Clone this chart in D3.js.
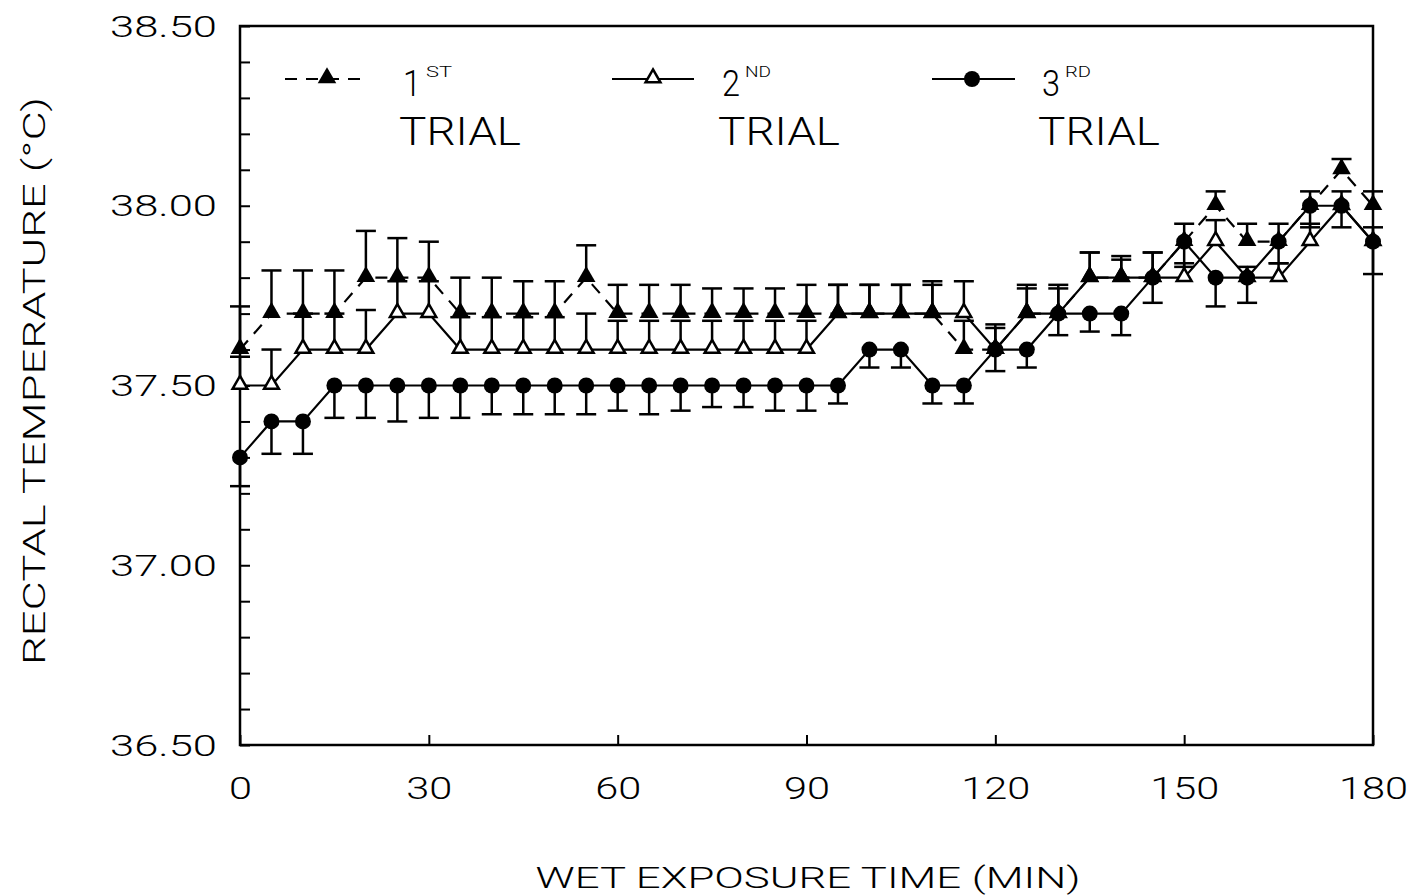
<!DOCTYPE html>
<meta charset="utf-8">
<head>
    <title>Rectal Temperature</title>
    <style>
        body { margin: 0; background: #fff; }
        text { font-family: Roboto, "Liberation Sans", Arial, sans-serif; font-weight: 300; fill: #000; }
    </style>
</head>
<body>
<svg id="chart" width="1416" height="896"></svg>
<script src="https://d3js.org/d3.v7.min.js"></script>
<script>
    // wet exposure time (min)
    var times = [0, 5, 10, 15, 20, 25, 30, 35, 40, 45, 50, 55, 60, 65, 70, 75, 80, 85, 90,
                 95, 100, 105, 110, 115, 120, 125, 130, 135, 140, 145, 150, 155, 160, 165, 170, 175, 180];

    var trial1 = [37.6, 37.7, 37.7, 37.7, 37.8, 37.8, 37.8, 37.7, 37.7, 37.7, 37.7, 37.8, 37.7, 37.7, 37.7, 37.7, 37.7, 37.7, 37.7,
                  37.7, 37.7, 37.7, 37.7, 37.6, 37.6, 37.7, 37.7, 37.8, 37.8, 37.8, 37.9, 38.0, 37.9, 37.9, 38.0, 38.1, 38.0];
    var trial2 = [37.5, 37.5, 37.6, 37.6, 37.6, 37.7, 37.7, 37.6, 37.6, 37.6, 37.6, 37.6, 37.6, 37.6, 37.6, 37.6, 37.6, 37.6, 37.6,
                  37.7, 37.7, 37.7, 37.7, 37.7, 37.6, 37.7, 37.7, 37.8, 37.8, 37.8, 37.8, 37.9, 37.8, 37.8, 37.9, 38.0, 37.9];
    var trial3 = [37.3, 37.4, 37.4, 37.5, 37.5, 37.5, 37.5, 37.5, 37.5, 37.5, 37.5, 37.5, 37.5, 37.5, 37.5, 37.5, 37.5, 37.5, 37.5,
                  37.5, 37.6, 37.6, 37.5, 37.5, 37.6, 37.6, 37.7, 37.7, 37.7, 37.8, 37.9, 37.8, 37.8, 37.9, 38.0, 38.0, 37.9];

    // standard errors (trial 1 and 2 drawn up, trial 3 drawn down)
    var se1 = [0.12, 0.12, 0.12, 0.12, 0.13, 0.11, 0.10, 0.10, 0.10, 0.09, 0.09, 0.09, 0.08, 0.08, 0.08, 0.07, 0.07, 0.07, 0.08,
               0.08, 0.08, 0.08, 0.09, 0.08, 0.07, 0.08, 0.08, 0.07, 0.06, 0.07, 0.05, 0.04, 0.05, 0.05, 0.04, 0.03, 0.04];
    var se2 = [0.08, 0.10, 0.10, 0.10, 0.11, 0.09, 0.09, 0.09, 0.09, 0.09, 0.09, 0.10, 0.08, 0.08, 0.08, 0.08, 0.08, 0.08, 0.08,
               0.08, 0.08, 0.08, 0.08, 0.09, 0.06, 0.07, 0.07, 0.07, 0.05, 0.07, 0.04, 0.06, 0.03, 0.04, 0.05, 0.04, 0.04];
    var se3 = [0.08, 0.09, 0.09, 0.09, 0.09, 0.10, 0.09, 0.09, 0.08, 0.08, 0.08, 0.08, 0.07, 0.08, 0.07, 0.06, 0.06, 0.07, 0.07,
               0.05, 0.05, 0.05, 0.05, 0.05, 0.06, 0.05, 0.06, 0.05, 0.06, 0.07, 0.07, 0.08, 0.07, 0.06, 0.06, 0.06, 0.09];

    var xTicks = [0, 30, 60, 90, 120, 150, 180];
    var yTicks = [36.5, 36.6, 36.7, 36.8, 36.9, 37.0, 37.1, 37.2, 37.3, 37.4, 37.5, 37.6, 37.7, 37.8, 37.9,
                  38.0, 38.1, 38.2, 38.3, 38.4, 38.5];
    var yLabels = ["36.50", "37.00", "37.50", "38.00", "38.50"];

    var svg = d3.select("#chart"),
        x = d3.scaleLinear().domain([0, 180]).range([240, 1373]),
        y = d3.scaleLinear().domain([36.5, 38.5]).range([745, 26]);

    // frame
    svg.append("rect")
        .attr("x", x(0)).attr("y", y(38.5))
        .attr("width", x(180) - x(0)).attr("height", y(36.5) - y(38.5))
        .attr("fill", "none").attr("stroke", "#000").attr("stroke-width", 2.5);

    // y axis: inward ticks every 0.1, labels every 0.5
    var yAxis = svg.append("g")
        .attr("transform", "translate(" + x(0) + ",0)")
        .call(d3.axisLeft(y).tickValues(yTicks).tickSize(-10).tickPadding(23)
            .tickFormat(function (d) {
                var s = d.toFixed(2);
                return yLabels.indexOf(s) >= 0 ? s : "";
            }));
    yAxis.select(".domain").remove();
    yAxis.selectAll("line").attr("stroke-width", 2);
    yAxis.selectAll("text")
        .attr("dy", null).attr("y", 10)
        .attr("font-size", 29)
        .attr("textLength", function (d) { return this.textContent ? 107 : null; })
        .attr("lengthAdjust", "spacingAndGlyphs");

    // x axis
    var xAxis = svg.append("g")
        .attr("transform", "translate(0," + y(36.5) + ")")
        .call(d3.axisBottom(x).tickValues(xTicks).tickSize(-10).tickPadding(0));
    xAxis.select(".domain").remove();
    xAxis.selectAll("line").attr("stroke-width", 2);
    xAxis.selectAll("text")
        .attr("dy", null).attr("y", 54)
        .attr("font-size", 32)
        .attr("textLength", function (d) { return String(d).length * 23; })
        .attr("lengthAdjust", "spacingAndGlyphs");

    // axis titles
    svg.append("text")
        .attr("x", 808).attr("y", 888)
        .attr("text-anchor", "middle").attr("font-size", 30)
        .attr("textLength", 545).attr("lengthAdjust", "spacingAndGlyphs")
        .text("WET EXPOSURE TIME (MIN)");
    svg.append("text")
        .attr("transform", "translate(45,381) rotate(-90)")
        .attr("text-anchor", "middle").attr("font-size", 31)
        .attr("textLength", 568).attr("lengthAdjust", "spacingAndGlyphs")
        .text("RECTAL TEMPERATURE (\u00B0C)");

    // marker helpers
    function filledTri(g, cx, cy) {
        g.append("path").attr("d", d3.symbol(d3.symbolTriangle, 150)())
            .attr("transform", "translate(" + cx + "," + (cy - 1) + ")")
            .attr("fill", "#000");
    }
    function openTri(g, cx, cy) {
        g.append("path").attr("d", d3.symbol(d3.symbolTriangle, 95)())
            .attr("transform", "translate(" + cx + "," + (cy - 1) + ")")
            .attr("fill", "#fff").attr("stroke", "#000").attr("stroke-width", 2.5);
    }
    function dot(g, cx, cy) {
        g.append("circle").attr("cx", cx).attr("cy", cy).attr("r", 8).attr("fill", "#000");
    }

    var series = [
        {name: "2ND", values: trial2, se: se2, dir: 1, dash: null, marker: openTri},
        {name: "1ST", values: trial1, se: se1, dir: 1, dash: "12,9", marker: filledTri},
        {name: "3RD", values: trial3, se: se3, dir: -1, dash: null, marker: dot}
    ];

    var line = d3.line()
        .x(function (d, i) { return x(times[i]); })
        .y(function (d) { return y(d); });

    series.forEach(function (s) {
        var g = svg.append("g");
        g.append("path").datum(s.values)
            .attr("d", line).attr("fill", "none")
            .attr("stroke", "#000").attr("stroke-width", 2.2)
            .attr("stroke-dasharray", s.dash);
        s.values.forEach(function (v, i) {
            var px = x(times[i]), end = y(v + s.dir * s.se[i]);
            g.append("line").attr("x1", px).attr("x2", px)
                .attr("y1", y(v)).attr("y2", end)
                .attr("stroke", "#000").attr("stroke-width", 2.5);
            g.append("line").attr("x1", px - 10).attr("x2", px + 10)
                .attr("y1", end).attr("y2", end)
                .attr("stroke", "#000").attr("stroke-width", 2.5);
        });
        s.values.forEach(function (v, i) { s.marker(g, x(times[i]), y(v)); });
    });

    // legend
    var legend = [
        {num: "1", sup: "ST", x0: 285, x1: 368, mx: 327, tx: 403, dash: "12,9", marker: filledTri},
        {num: "2", sup: "ND", x0: 612, x1: 694, mx: 653, tx: 722, dash: null, marker: openTri},
        {num: "3", sup: "RD", x0: 932, x1: 1015, mx: 972, tx: 1042, dash: null, marker: dot}
    ];
    legend.forEach(function (d) {
        var g = svg.append("g");
        g.append("line").attr("x1", d.x0).attr("x2", d.x1).attr("y1", 79).attr("y2", 79)
            .attr("stroke", "#000").attr("stroke-width", 2.2).attr("stroke-dasharray", d.dash);
        d.marker(g, d.mx, 79);
        g.append("text").attr("x", d.tx).attr("y", 96).attr("font-size", 37)
            .attr("textLength", 18).attr("lengthAdjust", "spacingAndGlyphs").text(d.num);
        g.append("text").attr("x", d.tx + 23).attr("y", 77).attr("font-size", 14)
            .attr("textLength", 26).attr("lengthAdjust", "spacingAndGlyphs").text(d.sup);
        g.append("text").attr("x", d.tx - 4).attr("y", 145).attr("font-size", 38)
            .attr("textLength", 122).attr("lengthAdjust", "spacingAndGlyphs").text("TRIAL");
    });
</script>
</body>
